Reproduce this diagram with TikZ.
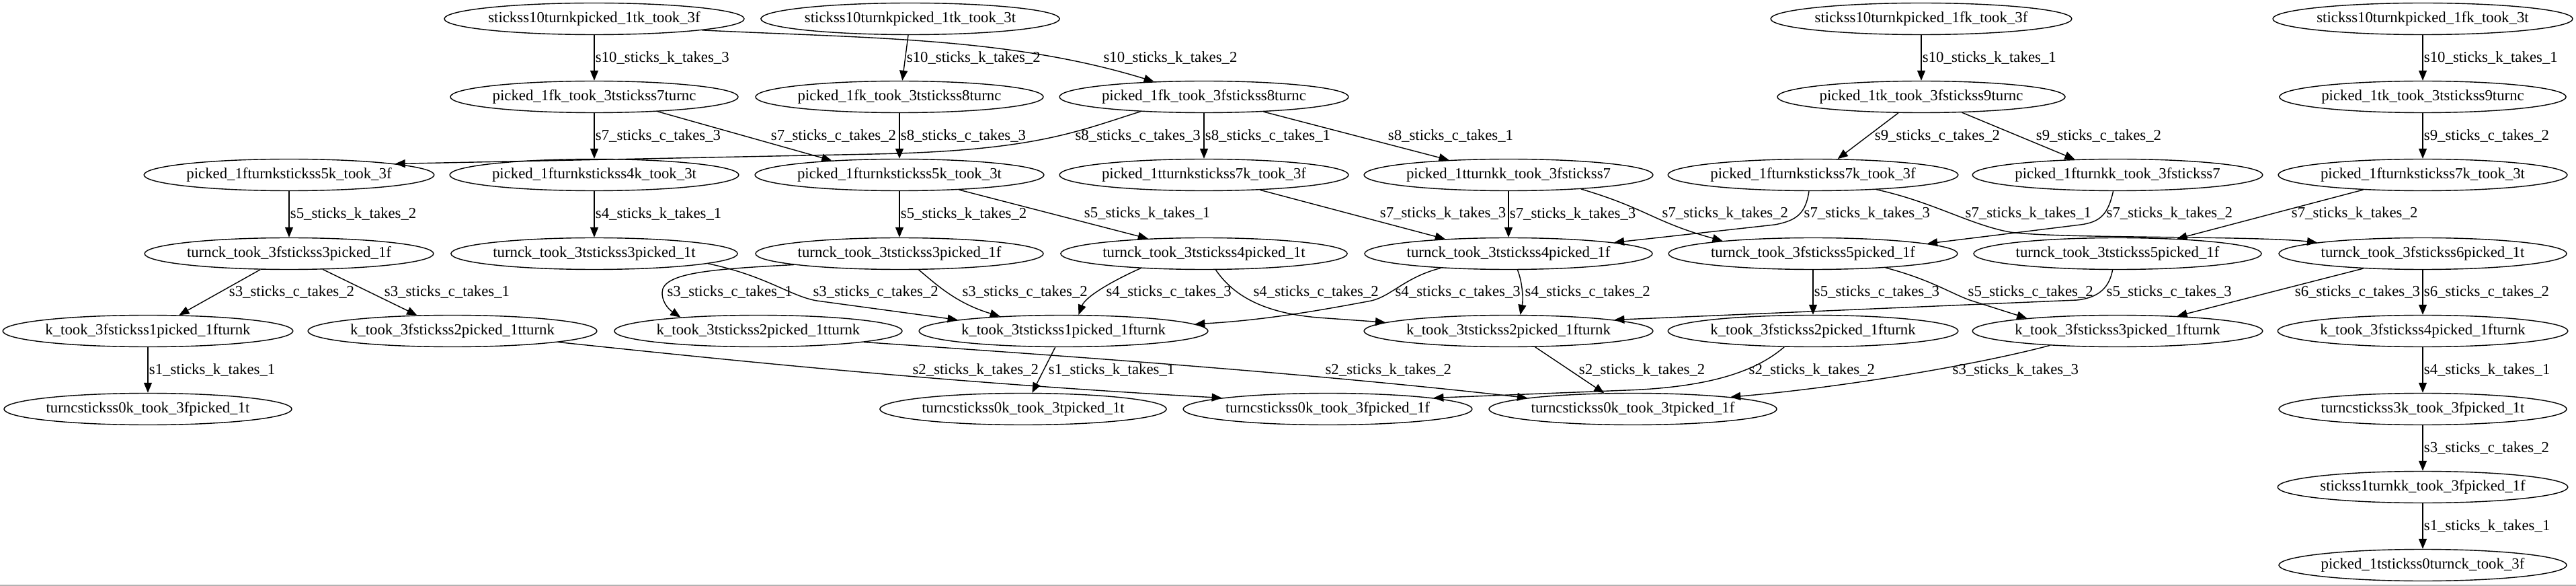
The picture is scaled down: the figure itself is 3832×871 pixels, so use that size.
\documentclass[tikz,border=0pt]{standalone}
\usepackage{fontspec}
\setmainfont{Liberation Serif}
\usetikzlibrary{arrows.meta,shapes.geometric}
\newcommand{\gvsize}{\fontsize{11.4}{13}\selectfont}
\tikzstyle{state}=[ellipse,draw,line width=0.7pt,inner xsep=0pt,inner ysep=0pt,minimum height=23.5pt,font=\gvsize]
\tikzstyle{move}=[draw,line width=0.7pt,-{Triangle[length=7.5pt,width=6pt]}]
\tikzstyle{weight}=[font=\gvsize,inner sep=0.6pt]

\begin{document}
\begin{tikzpicture}[x=0.5pt,y=-0.5pt]

    \useasboundingbox (0,0) rectangle (3832,871);
    \draw[black!30,line width=0.8pt] (0,870) -- (3832,870);

    \foreach \name/\x/\y/\txt in {
        A1/884/28/{stickss10turnkpicked\_1tk\_took\_3f},
        A2/1354/28/{stickss10turnkpicked\_1tk\_took\_3t},
        A3/2858/28/{stickss10turnkpicked\_1fk\_took\_3f},
        A4/3604/28/{stickss10turnkpicked\_1fk\_took\_3t},
        B1/884/144/{picked\_1fk\_took\_3tstickss7turnc},
        B2/1338/144/{picked\_1fk\_took\_3tstickss8turnc},
        B3/1791/144/{picked\_1fk\_took\_3fstickss8turnc},
        B4/2858/144/{picked\_1tk\_took\_3fstickss9turnc},
        B5/3604/144/{picked\_1tk\_took\_3tstickss9turnc},
        C1/430/260/{picked\_1fturnkstickss5k\_took\_3f},
        C2/884/260/{picked\_1fturnkstickss4k\_took\_3t},
        C3/1338/260/{picked\_1fturnkstickss5k\_took\_3t},
        C4/1791/260/{picked\_1tturnkstickss7k\_took\_3f},
        C5/2244/260/{picked\_1tturnkk\_took\_3fstickss7},
        C6/2697/260/{picked\_1fturnkstickss7k\_took\_3f},
        C7/3150/260/{picked\_1fturnkk\_took\_3fstickss7},
        C8/3604/260/{picked\_1fturnkstickss7k\_took\_3t},
        D1/430/377/{turnck\_took\_3fstickss3picked\_1f},
        D2/884/377/{turnck\_took\_3tstickss3picked\_1t},
        D3/1338/377/{turnck\_took\_3tstickss3picked\_1f},
        D4/1791/377/{turnck\_took\_3tstickss4picked\_1t},
        D5/2244/377/{turnck\_took\_3tstickss4picked\_1f},
        D6/2697/377/{turnck\_took\_3fstickss5picked\_1f},
        D7/3150/377/{turnck\_took\_3tstickss5picked\_1f},
        D8/3604/377/{turnck\_took\_3fstickss6picked\_1t},
        E1/220/492/{k\_took\_3fstickss1picked\_1fturnk},
        E2/673/492/{k\_took\_3fstickss2picked\_1tturnk},
        E3/1128/492/{k\_took\_3tstickss2picked\_1tturnk},
        E4/1582/492/{k\_took\_3tstickss1picked\_1fturnk},
        E5/2244/492/{k\_took\_3tstickss2picked\_1fturnk},
        E6/2697/492/{k\_took\_3fstickss2picked\_1fturnk},
        E7/3150/492/{k\_took\_3fstickss3picked\_1fturnk},
        E8/3604/492/{k\_took\_3fstickss4picked\_1fturnk},
        F1/220/608/{turncstickss0k\_took\_3fpicked\_1t},
        F2/1522/608/{turncstickss0k\_took\_3tpicked\_1t},
        F3/1975/608/{turncstickss0k\_took\_3fpicked\_1f},
        F4/2429/608/{turncstickss0k\_took\_3tpicked\_1f},
        F5/3604/608/{turncstickss3k\_took\_3fpicked\_1t},
        G5/3604/724/{stickss1turnkk\_took\_3fpicked\_1f},
        H5/3604/840/{picked\_1tstickss0turnck\_took\_3f}}
        \node[state] (\name) at (\x,\y) {\txt};

    % straight down
    \foreach \source/\dest/\weight in {
        A1/B1/{s10\_sticks\_k\_takes\_3}, A3/B4/{s10\_sticks\_k\_takes\_1},
        A4/B5/{s10\_sticks\_k\_takes\_1}, B1/C2/{s7\_sticks\_c\_takes\_3},
        B2/C3/{s8\_sticks\_c\_takes\_3}, B3/C4/{s8\_sticks\_c\_takes\_1},
        B5/C8/{s9\_sticks\_c\_takes\_2}, C1/D1/{s5\_sticks\_k\_takes\_2},
        C2/D2/{s4\_sticks\_k\_takes\_1}, C3/D3/{s5\_sticks\_k\_takes\_2},
        C5/D5/{s7\_sticks\_k\_takes\_3}, D6/E6/{s5\_sticks\_c\_takes\_3},
        D8/E8/{s6\_sticks\_c\_takes\_2}, E1/F1/{s1\_sticks\_k\_takes\_1},
        E8/F5/{s4\_sticks\_k\_takes\_1}, F5/G5/{s3\_sticks\_c\_takes\_2},
        G5/H5/{s1\_sticks\_k\_takes\_1}}
        \path[move] (\source) -- node[weight,right] (w\source\dest) {\weight} (\dest);

    % straight, slanted
    \foreach \source/\sa/\dest/\da/\lx/\ly/\weight in {
        A2/-97/B2/80/1347/86/{s10\_sticks\_k\_takes\_2},
        B1/-13/C3/168/1145/202/{s7\_sticks\_c\_takes\_2},
        B3/-14/C5/166/2063/202/{s8\_sticks\_c\_takes\_1},
        B4/-145/C6/33/2787/202/{s9\_sticks\_c\_takes\_2},
        B4/-21/C7/160/3027/202/{s9\_sticks\_c\_takes\_2},
        C3/-14/D4/165/1611/317/{s5\_sticks\_k\_takes\_1},
        C4/-15/D5/167/2051/317/{s7\_sticks\_k\_takes\_3},
        C8/194/D7/14/3407/317/{s7\_sticks\_k\_takes\_2},
        D1/-151/E1/27/339/434/{s3\_sticks\_c\_takes\_2},
        D1/-25/E2/156/570/434/{s3\_sticks\_c\_takes\_1},
        D8/194/E7/14/3412/434/{s6\_sticks\_c\_takes\_3},
        E4/-117/F2/61/1558/550/{s1\_sticks\_k\_takes\_1},
        E5/-31/F4/151/2347/550/{s2\_sticks\_k\_takes\_2}}
        \path[move] (\source.\sa) -- (\dest.\da) node[weight,anchor=west] (w\source\dest) at (\lx,\ly) {\weight};

    % curved
    \path[move] (A1.-6) .. controls (1290,57) and (1500,55) .. (B3.163);
    \node[weight,anchor=west] (wA1B3) at (1640,86) {s10\_sticks\_k\_takes\_2};

    \path[move] (B3.193) .. controls (1600,196) and (1540,224) .. (1300,229) -- (C1.6);
    \node[weight,anchor=west] (wB3C1) at (1598,202) {s8\_sticks\_c\_takes\_3};

    \path[move] (C5.-11) .. controls (2450,310) and (2460,330) .. (D6.172);
    \node[weight,anchor=west] (wC5D6) at (2471,317) {s7\_sticks\_k\_takes\_2};

    \path[move] (C6.-104) .. controls (2686,318) and (2672,328) .. (2640,334) -- (D5.6);
    \node[weight,anchor=west] (wC6D5) at (2682,317) {s7\_sticks\_k\_takes\_3};

    \path[move] (C6.-13) .. controls (2875,300) and (2930,334) .. (2990,345)
        .. controls (3060,355) and (3350,350) .. (D8.174);
    \node[weight,anchor=west] (wC6D8) at (2922,317) {s7\_sticks\_k\_takes\_1};

    \path[move] (C7.-105) .. controls (3136,318) and (3125,330) .. (3095,334) -- (D6.5);
    \node[weight,anchor=west] (wC7D6) at (3132,317) {s7\_sticks\_k\_takes\_2};

    \path[move] (D2.-5) .. controls (1140,410) and (1175,440) .. (1215,447) -- (E4.174);
    \node[weight,anchor=west] (wD2E4) at (1208,434) {s3\_sticks\_c\_takes\_2};

    \path[move] (D3.186) .. controls (1060,400) and (985,405) .. (985,435)
        .. controls (985,452) and (998,462) .. (E3.170);
    \node[weight,anchor=west] (wD3E3) at (991,434) {s3\_sticks\_c\_takes\_1};

    \path[move] (D3.-40) .. controls (1390,420) and (1420,450) .. (E4.167);
    \node[weight,anchor=west] (wD3E4) at (1430,434) {s3\_sticks\_c\_takes\_2};

    \path[move] (D4.193) .. controls (1660,415) and (1615,440) .. (E4.47);
    \node[weight,anchor=west] (wD4E4) at (1644,434) {s4\_sticks\_c\_takes\_3};

    \path[move] (D4.-54) .. controls (1835,440) and (1880,465) .. (1960,472) -- (E5.176);
    \node[weight,anchor=west] (wD4E5) at (1863,434) {s4\_sticks\_c\_takes\_2};

    \path[move] (D5.192) .. controls (2090,412) and (2070,440) .. (2040,447)
        .. controls (1960,462) and (1880,476) .. (E4.3);
    \node[weight,anchor=west] (wD5E4) at (2074,434) {s4\_sticks\_c\_takes\_3};

    \path[move] (D5.-61) .. controls (2265,420) and (2266,445) .. (E5.54);
    \node[weight,anchor=west] (wD5E5) at (2267,434) {s4\_sticks\_c\_takes\_2};

    \path[move] (D6.-11) .. controls (2870,415) and (2900,435) .. (2930,446) -- (E7.172);
    \node[weight,anchor=west] (wD6E7) at (2926,434) {s5\_sticks\_c\_takes\_2};

    \path[move] (D7.-107) .. controls (3138,425) and (3125,442) .. (3090,446) -- (E5.6);
    \node[weight,anchor=west] (wD7E5) at (3132,434) {s5\_sticks\_c\_takes\_3};

    \path[move] (E2.-6) .. controls (1100,537) and (1400,568) .. (F3.174);
    \node[weight,anchor=west] (wE2F3) at (1356,550) {s2\_sticks\_k\_takes\_2};

    \path[move] (E3.-6) .. controls (1600,530) and (1950,555) .. (F4.174);
    \node[weight,anchor=west] (wE3F4) at (1970,550) {s2\_sticks\_k\_takes\_2};

    \path[move] (E6.209) .. controls (2620,545) and (2560,575) .. (2420,580) -- (F3.6);
    \node[weight,anchor=west] (wE6F3) at (2600,550) {s2\_sticks\_k\_takes\_2};

    \path[move] (E7.192) .. controls (2950,540) and (2750,575) .. (F4.7);
    \node[weight,anchor=west] (wE7F4) at (2903,550) {s3\_sticks\_k\_takes\_3};

\end{tikzpicture}
\end{document}
